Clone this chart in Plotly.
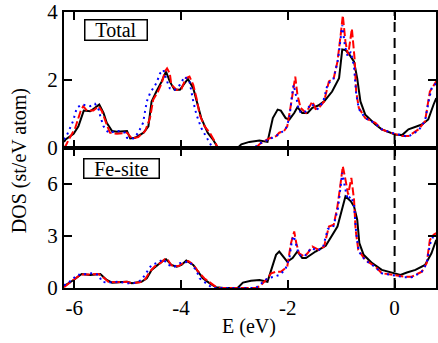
import plotly.graph_objects as go

# ---------------- data (E in eV, DOS in st/eV atom) ----------------
total_black = [(-6.19,0.18),(-6.16,0.25),(-6.01,0.42),(-5.92,0.64),(-5.82,1.10),(-5.70,1.08),(-5.61,1.18),(-5.53,1.28),
    (-5.45,1.03),(-5.39,0.74),(-5.29,0.50),(-5.20,0.48),(-5.01,0.50),(-4.95,0.28),(-4.86,0.30),(-4.70,0.45),(-4.61,0.64),
    (-4.55,1.37),(-4.46,1.66),(-4.36,1.96),(-4.28,2.25),(-4.21,1.96),(-4.12,1.71),(-4.02,1.71),(-3.93,1.91),(-3.87,2.03),
    (-3.77,1.76),(-3.71,1.37),(-3.62,0.88),(-3.50,0.45),(-3.40,0.25),(-3.31,0.01),(-3.10,0.0),(-2.94,0.0),(-2.87,0.11),
    (-2.72,0.18),(-2.53,0.22),(-2.38,0.18),(-2.28,0.88),(-2.19,1.13),(-2.13,1.10),(-2.04,0.88),(-1.97,0.84),(-1.88,1.03),
    (-1.82,1.20),(-1.73,1.03),(-1.63,1.03),(-1.54,1.18),(-1.43,1.25),(-1.32,1.37),(-1.17,1.66),(-1.04,2.05),(-0.98,2.90),
    (-0.92,2.88),(-0.86,2.78),(-0.76,2.54),(-0.70,2.05),(-0.64,1.37),(-0.55,0.98),(-0.36,0.69),(-0.24,0.55),(0.01,0.40),
    (0.14,0.38),(0.26,0.55),(0.51,0.69),(0.63,0.84),(0.73,1.28),(0.78,1.47)]
total_red = [(-6.19,0.0),(-6.16,0.06),(-6.10,0.25),(-5.98,0.59),(-5.88,1.08),(-5.83,1.23),(-5.76,1.10),(-5.64,1.10),
    (-5.54,1.23),(-5.48,1.08),(-5.39,0.69),(-5.33,0.45),(-5.20,0.42),(-5.01,0.45),(-4.92,0.28),(-4.80,0.32),(-4.67,0.50),
    (-4.58,0.88),(-4.52,1.42),(-4.43,1.66),(-4.36,1.91),(-4.30,2.25),(-4.26,2.34),(-4.21,2.20),(-4.18,1.86),(-4.08,1.71),
    (-3.99,1.74),(-3.91,2.05),(-3.84,2.10),(-3.77,1.86),(-3.71,1.47),(-3.65,0.98),(-3.56,0.64),(-3.46,0.45),(-3.37,0.20),
    (-3.31,0.0),(-2.60,0.0),(-2.53,0.11),(-2.44,0.20),(-2.35,0.28),(-2.22,0.35),(-2.16,0.45),(-2.07,0.50),(-2.01,0.64),
    (-1.94,1.28),(-1.88,1.91),(-1.86,2.10),(-1.82,1.57),(-1.76,1.18),(-1.66,1.03),(-1.54,1.37),(-1.48,1.15),(-1.42,1.18),
    (-1.32,1.37),(-1.23,1.96),(-1.14,2.05),(-1.07,2.54),(-1.01,3.32),(-0.97,3.90),(-0.92,3.12),(-0.87,2.73),(-0.80,3.51),
    (-0.75,2.64),(-0.72,1.66),(-0.67,1.18),(-0.55,0.88),(-0.36,0.74),(-0.24,0.55),(-0.08,0.45),(0.14,0.35),(0.26,0.35),
    (0.45,0.55),(0.57,0.79),(0.66,1.66),(0.73,1.86),(0.78,1.96)]
total_blue = [(-6.19,0.25),(-6.13,0.40),(-6.02,0.79),(-5.95,1.18),(-5.86,1.28),(-5.70,1.23),(-5.61,1.30),(-5.54,1.13),
    (-5.51,0.93),(-5.45,0.64),(-5.36,0.45),(-5.17,0.50),(-5.05,0.45),(-5.01,0.30),(-4.89,0.28),(-4.80,0.45),(-4.71,0.74),
    (-4.64,1.37),(-4.58,1.61),(-4.46,1.91),(-4.39,2.20),(-4.33,2.30),(-4.27,2.00),(-4.21,1.76),(-4.12,1.71),(-4.02,1.86),
    (-3.93,2.10),(-3.84,1.96),(-3.77,1.37),(-3.71,0.98),(-3.62,0.59),(-3.50,0.25),(-3.43,0.06),(-3.38,0.0),(-2.62,0.0),
    (-2.56,0.11),(-2.38,0.25),(-2.22,0.35),(-2.04,0.55),(-1.97,0.88),(-1.92,1.57),(-1.89,1.86),(-1.85,1.57),(-1.79,1.08),
    (-1.69,1.03),(-1.56,1.30),(-1.44,1.15),(-1.34,1.35),(-1.25,1.90),(-1.15,2.00),(-1.06,2.60),(-0.98,3.61),(-0.93,3.00),
    (-0.88,2.70),(-0.82,2.83),(-0.76,2.40),(-0.72,1.60),(-0.67,1.15),(-0.55,0.88),(-0.36,0.72),(-0.24,0.55),(-0.06,0.45),
    (0.12,0.38),(0.25,0.33),(0.45,0.52),(0.57,0.80),(0.64,1.40),(0.70,1.80),(0.78,1.90)]

fe_black = [(-6.19,0.10),(-6.16,0.17),(-6.01,0.46),(-5.86,0.81),(-5.70,0.75),(-5.51,0.81),(-5.39,0.46),(-5.29,0.31),
    (-5.01,0.36),(-4.92,0.27),(-4.74,0.36),(-4.64,0.56),(-4.55,1.04),(-4.46,1.27),(-4.36,1.52),(-4.28,1.66),(-4.18,1.33),
    (-4.08,1.23),(-3.99,1.33),(-3.90,1.58),(-3.87,1.52),(-3.77,1.33),(-3.68,0.94),(-3.59,0.56),(-3.46,0.27),(-3.34,0.04),
    (-3.20,0.0),(-2.94,0.0),(-2.84,0.31),(-2.69,0.42),(-2.53,0.46),(-2.38,0.36),(-2.28,1.33),(-2.22,1.91),(-2.16,2.10),
    (-2.07,1.72),(-2.01,1.52),(-1.91,1.72),(-1.82,2.10),(-1.73,1.72),(-1.66,1.72),(-1.48,2.10),(-1.29,2.43),(-1.07,3.54),
    (-0.98,4.61),(-0.92,5.28),(-0.82,4.99),(-0.76,4.70),(-0.70,3.93),(-0.66,2.58),(-0.58,1.91),(-0.42,1.43),(-0.24,1.04),
    (-0.02,0.85),(0.11,0.75),(0.23,0.89),(0.39,1.04),(0.57,1.33),(0.69,2.00),(0.78,2.77)]
fe_red = [(-6.19,0.05),(-6.13,0.20),(-6.01,0.46),(-5.88,0.78),(-5.70,0.78),(-5.54,0.80),(-5.45,0.60),(-5.36,0.36),
    (-5.20,0.33),(-5.01,0.36),(-4.92,0.27),(-4.77,0.33),(-4.67,0.50),(-4.58,0.95),(-4.49,1.25),(-4.38,1.45),(-4.30,1.66),
    (-4.24,1.60),(-4.18,1.30),(-4.05,1.25),(-3.95,1.45),(-3.86,1.55),(-3.77,1.35),(-3.68,0.95),(-3.56,0.55),(-3.46,0.30),
    (-3.34,0.05),(-3.28,0.0),(-2.58,0.0),(-2.50,0.17),(-2.41,0.46),(-2.31,0.85),(-2.22,0.94),(-2.13,0.94),(-2.05,1.14),
    (-2.01,1.23),(-1.94,2.58),(-1.88,3.25),(-1.84,2.58),(-1.79,2.00),(-1.69,1.81),(-1.63,2.00),(-1.54,2.39),(-1.42,2.20),
    (-1.32,2.39),(-1.23,3.54),(-1.14,3.64),(-1.07,4.70),(-1.01,6.05),(-0.97,7.01),(-0.92,6.24),(-0.87,5.38),(-0.81,6.34),
    (-0.76,5.09),(-0.73,3.35),(-0.68,2.20),(-0.55,1.62),(-0.36,1.23),(-0.24,0.85),(0.01,0.75),(0.20,0.65),(0.32,0.65),
    (0.51,0.94),(0.60,1.43),(0.66,2.77),(0.73,3.06),(0.78,3.16)]
fe_blue = [(-6.19,0.15),(-6.13,0.27),(-6.04,0.46),(-5.95,0.75),(-5.82,0.81),(-5.64,0.85),(-5.54,0.75),(-5.48,0.36),
    (-5.39,0.31),(-5.17,0.36),(-5.01,0.27),(-4.89,0.27),(-4.74,0.46),(-4.64,0.94),(-4.55,1.33),(-4.43,1.46),(-4.33,1.66),
    (-4.24,1.33),(-4.12,1.23),(-4.02,1.43),(-3.93,1.46),(-3.84,1.52),(-3.77,1.23),(-3.71,1.00),(-3.65,0.56),(-3.56,0.36),
    (-3.43,0.04),(-3.38,0.0),(-2.60,0.0),(-2.53,0.17),(-2.38,0.56),(-2.25,0.65),(-2.16,0.75),(-2.05,1.04),(-1.97,1.72),
    (-1.92,2.77),(-1.89,3.00),(-1.85,2.58),(-1.79,1.91),(-1.69,1.81),(-1.56,2.30),(-1.44,2.15),(-1.34,2.35),(-1.25,3.40),
    (-1.15,3.50),(-1.06,4.60),(-0.98,6.63),(-0.93,5.80),(-0.88,5.10),(-0.82,5.28),(-0.76,4.80),(-0.72,3.20),(-0.67,2.10),
    (-0.55,1.60),(-0.36,1.20),(-0.24,0.85),(-0.02,0.75),(0.18,0.62),(0.32,0.62),(0.50,0.90),(0.60,1.40),(0.66,2.50),
    (0.72,2.95),(0.78,3.05)]

x_ticks = [-6, -4, -2, 0]
x_ticktext = ["-6", "-4", "-2", "0"]
total_yticks = [0, 2, 4]
fe_yticks = [0, 3, 6]
fermi_level = [0.0]
panel_labels = ["Total", "Fe-site"]

# ---------------- figure ----------------
FONT = "Liberation Serif, Times New Roman, Times, serif"
fig = go.Figure()

styles = [
    dict(color="black", width=2, dash="solid"),
    dict(color="#ff0000", width=2, dash="8px,3px"),
    dict(color="#0000ff", width=2, dash="2px,4px"),
]

for curve, st in zip([total_black, total_red, total_blue], styles):
    fig.add_trace(go.Scatter(x=[p[0] for p in curve], y=[p[1] for p in curve], mode="lines",
                             line=st, xaxis="x", yaxis="y", showlegend=False))
for curve, st in zip([fe_black, fe_red, fe_blue], styles):
    fig.add_trace(go.Scatter(x=[p[0] for p in curve], y=[p[1] for p in curve], mode="lines",
                             line=st, xaxis="x2", yaxis="y2", showlegend=False))

split = 141 / 278
axis_common = dict(showline=True, linecolor="black", linewidth=2, mirror="ticks", ticks="inside",
                   ticklen=8, tickwidth=2, tickcolor="black", showgrid=False, zeroline=False,
                   ticklabeloverflow="allow",
                   tickfont=dict(family=FONT, size=21, color="black"))
xr = [-6.19, 0.775]

fig.update_layout(
    width=438, height=343,
    margin=dict(l=64, r=0, t=10, b=55),
    paper_bgcolor="white", plot_bgcolor="white",
    font=dict(family=FONT, size=20, color="black"),
    xaxis=dict(**axis_common, range=xr, anchor="y", domain=[0, 1], tickvals=x_ticks,
               showticklabels=False),
    yaxis=dict(**axis_common, range=[0, 4], anchor="x", domain=[split, 1], tickvals=total_yticks,
               ticktext=[str(v) for v in total_yticks]),
    xaxis2=dict(**axis_common, range=xr, anchor="y2", domain=[0, 1], tickvals=x_ticks,
                ticktext=x_ticktext),
    yaxis2=dict(**axis_common, range=[0, 8.06], anchor="x2", domain=[0, split], tickvals=fe_yticks,
                ticktext=[str(v) for v in fe_yticks]),
)

for xv in fermi_level:
    fig.add_shape(type="line", xref="x2", yref="paper", x0=xv, x1=xv, y0=0, y1=1,
                  line=dict(color="black", width=2, dash="10px,6px"))

# panel labels (boxed)
fig.add_annotation(text=panel_labels[0], xref="paper", yref="paper", x=(84 - 64) / 374, y=(288 - 17) / 278,
                   xanchor="left", yanchor="top", showarrow=False, width=61, height=19, borderpad=0,
                   bordercolor="black", borderwidth=1.5, bgcolor="white",
                   font=dict(family=FONT, size=20, color="black"))
fig.add_annotation(text=panel_labels[1], xref="paper", yref="paper", x=(83 - 64) / 374, y=(288 - 157) / 278,
                   xanchor="left", yanchor="top", showarrow=False, width=74, height=18, borderpad=0,
                   bordercolor="black", borderwidth=1.5, bgcolor="white",
                   font=dict(family=FONT, size=20, color="black"))

# axis titles
fig.add_annotation(text="E (eV)", xref="paper", yref="paper", x=(250 - 64) / 374, y=(288 - 327) / 278,
                   xanchor="center", yanchor="middle", showarrow=False,
                   font=dict(family=FONT, size=20, color="black"))
fig.add_annotation(text="DOS (st/eV atom)", xref="paper", yref="paper", x=(20 - 64) / 374, y=(288 - 160) / 278,
                   xanchor="center", yanchor="middle", showarrow=False, textangle=-90,
                   font=dict(family=FONT, size=20, color="black"))

fig.write_html("out.html")
